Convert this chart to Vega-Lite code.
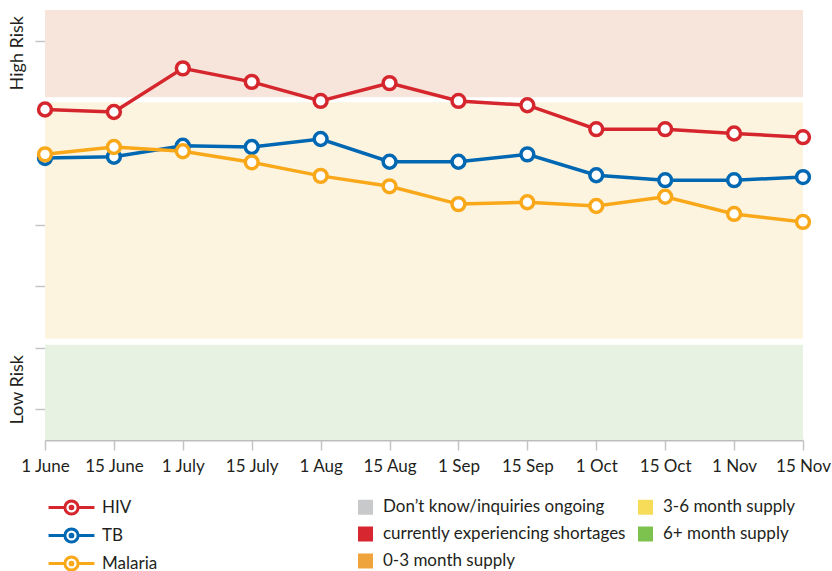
{
  "$schema": "https://vega.github.io/schema/vega-lite/v6.json",
  "width": 758,
  "height": 430,
  "autosize": {"type": "none"},
  "padding": {"left": 45, "top": 10, "right": 29, "bottom": 131},
  "config": {
    "view": {"stroke": null},
    "font": "Lato",
    "axis": {"labelFont": "Lato", "labelColor": "#231f20", "labelFontSize": 17, "title": null},
    "legend": {"labelFont": "Lato", "labelFontSize": 17, "labelColor": "#231f20", "padding": 0, "titlePadding": 0}
  },
  "datasets": {
    "zones": [
      {"zone": "high", "lo": 6.08, "hi": 7.5},
      {"zone": "mid", "lo": 2.15, "hi": 6.0},
      {"zone": "low", "lo": 0.5, "hi": 2.05}
    ],
    "supply": [
      {"supply": "Don’t know/inquiries ongoing"},
      {"supply": "currently experiencing shortages"},
      {"supply": "0-3 month supply"},
      {"supply": "3-6 month supply"},
      {"supply": "6+ month supply"}
    ],
    "series": [
      {"disease": "HIV", "date": "1 June", "risk": 5.88},
      {"disease": "HIV", "date": "15 June", "risk": 5.84},
      {"disease": "HIV", "date": "1 July", "risk": 6.55},
      {"disease": "HIV", "date": "15 July", "risk": 6.33},
      {"disease": "HIV", "date": "1 Aug", "risk": 6.02},
      {"disease": "HIV", "date": "15 Aug", "risk": 6.31},
      {"disease": "HIV", "date": "1 Sep", "risk": 6.02},
      {"disease": "HIV", "date": "15 Sep", "risk": 5.95},
      {"disease": "HIV", "date": "1 Oct", "risk": 5.56},
      {"disease": "HIV", "date": "15 Oct", "risk": 5.56},
      {"disease": "HIV", "date": "1 Nov", "risk": 5.49},
      {"disease": "HIV", "date": "15 Nov", "risk": 5.43},
      {"disease": "TB", "date": "1 June", "risk": 5.09},
      {"disease": "TB", "date": "15 June", "risk": 5.11},
      {"disease": "TB", "date": "1 July", "risk": 5.29},
      {"disease": "TB", "date": "15 July", "risk": 5.27},
      {"disease": "TB", "date": "1 Aug", "risk": 5.40},
      {"disease": "TB", "date": "15 Aug", "risk": 5.03},
      {"disease": "TB", "date": "1 Sep", "risk": 5.03},
      {"disease": "TB", "date": "15 Sep", "risk": 5.15},
      {"disease": "TB", "date": "1 Oct", "risk": 4.81},
      {"disease": "TB", "date": "15 Oct", "risk": 4.73},
      {"disease": "TB", "date": "1 Nov", "risk": 4.73},
      {"disease": "TB", "date": "15 Nov", "risk": 4.78},
      {"disease": "Malaria", "date": "1 June", "risk": 5.15},
      {"disease": "Malaria", "date": "15 June", "risk": 5.27},
      {"disease": "Malaria", "date": "1 July", "risk": 5.20},
      {"disease": "Malaria", "date": "15 July", "risk": 5.02},
      {"disease": "Malaria", "date": "1 Aug", "risk": 4.80},
      {"disease": "Malaria", "date": "15 Aug", "risk": 4.63},
      {"disease": "Malaria", "date": "1 Sep", "risk": 4.34},
      {"disease": "Malaria", "date": "15 Sep", "risk": 4.37},
      {"disease": "Malaria", "date": "1 Oct", "risk": 4.31},
      {"disease": "Malaria", "date": "15 Oct", "risk": 4.46},
      {"disease": "Malaria", "date": "1 Nov", "risk": 4.18},
      {"disease": "Malaria", "date": "15 Nov", "risk": 4.05}
    ]
  },
  "layer": [
    {
      "data": {"name": "supply"},
      "mark": {"type": "square", "size": 1},
      "encoding": {
        "fill": {
          "field": "supply", "type": "nominal",
          "scale": {
            "domain": ["Don’t know/inquiries ongoing", "currently experiencing shortages", "0-3 month supply", "3-6 month supply", "6+ month supply"],
            "range": ["#c7c9cb", "#d7262f", "#eea43a", "#f7dc5a", "#7dc24f"]
          },
          "legend": {
            "title": null, "orient": "none", "legendX": 312, "legendY": 488.5,
            "columns": 2, "columnPadding": 11, "rowPadding": 9,
            "symbolType": "square", "symbolSize": 225, "symbolStrokeWidth": 0, "symbolOpacity": 1,
            "labelOffset": 9, "labelLimit": 400
          }
        }
      }
    },
    {
      "data": {"name": "zones"},
      "transform": [{"filter": "datum.zone == 'high'"}],
      "mark": {"type": "rect", "color": "#f7e5dc"},
      "encoding": {
        "y": {"field": "lo", "type": "quantitative", "scale": {"domain": [0.5, 7.5], "nice": false, "zero": false},
          "axis": {
            "values": [1, 2, 3, 4, 7], "domain": false, "grid": false,
            "tickColor": "#c4c4c4", "tickWidth": 1.5, "tickSize": 10,
            "labelExpr": "datum.value == 7 ? 'High Risk' : datum.value == 1 ? 'Low Risk' : ''",
            "labelAngle": 270, "labelAlign": "center", "labelBaseline": "bottom", "labelFontSize": 18,
            "labelPadding": 9, "labelOverlap": false, "labelFlush": false, "labelBound": false,
            "labelOffset": {"condition": {"test": "datum.value == 7", "value": 12}, "value": -20},
            "title": null
          }
        },
        "y2": {"field": "hi"}
      }
    },
    {
      "data": {"name": "zones"},
      "transform": [{"filter": "datum.zone == 'mid'"}],
      "mark": {"type": "rect", "color": "#fdf4e0"},
      "encoding": {"y": {"field": "lo", "type": "quantitative"}, "y2": {"field": "hi"}}
    },
    {
      "data": {"name": "zones"},
      "transform": [{"filter": "datum.zone == 'low'"}],
      "mark": {"type": "rect", "color": "#e8f2e2"},
      "encoding": {"y": {"field": "lo", "type": "quantitative"}, "y2": {"field": "hi"}}
    },
    {
      "data": {"name": "series"},
      "mark": {"type": "line", "strokeWidth": 3.5},
      "encoding": {
        "x": {
          "field": "date", "type": "ordinal", "sort": null,
          "scale": {"type": "point", "padding": 0, "domain": ["1 June", "15 June", "1 July", "15 July", "1 Aug", "15 Aug", "1 Sep", "15 Sep", "1 Oct", "15 Oct", "1 Nov", "15 Nov"]},
          "axis": {
            "labelAngle": 0, "domainColor": "#bdbdbd", "domainWidth": 2,
            "tickColor": "#c4c4c4", "tickWidth": 1.5, "tickSize": 10, "labelPadding": 8,
            "labelOverlap": false, "labelFlush": false, "grid": false, "title": null
          }
        },
        "y": {"field": "risk", "type": "quantitative"},
        "stroke": {
          "field": "disease", "type": "nominal",
          "scale": {"domain": ["HIV", "TB", "Malaria"], "range": ["#d5262d", "#0068b2", "#f9a81a"]},
          "legend": {
            "title": null, "orient": "none", "legendX": 11.5, "legendY": 482.5,
            "rowPadding": -1.5,
            "symbolType": "M-1.7,0H-0.49M0.49,0H1.7M0.49,0A0.49,0.49,0,1,1,-0.49,0A0.49,0.49,0,1,1,0.49,0ZM0.1,0A0.1,0.1,0,1,1,-0.1,0A0.1,0.1,0,1,1,0.1,0Z",
            "symbolSize": 729, "symbolStrokeWidth": 3, "symbolFillColor": "white", "symbolOpacity": 1,
            "labelOffset": 15.5
          }
        },
        "detail": {"field": "disease"}
      }
    },
    {
      "data": {"name": "series"},
      "mark": {"type": "point", "shape": "circle", "size": 165, "strokeWidth": 3.5, "fill": "white", "opacity": 1, "fillOpacity": 1, "strokeOpacity": 1},
      "encoding": {
        "x": {"field": "date", "type": "ordinal", "sort": null},
        "y": {"field": "risk", "type": "quantitative"},
        "stroke": {"field": "disease", "type": "nominal"}
      }
    }
  ]
}
